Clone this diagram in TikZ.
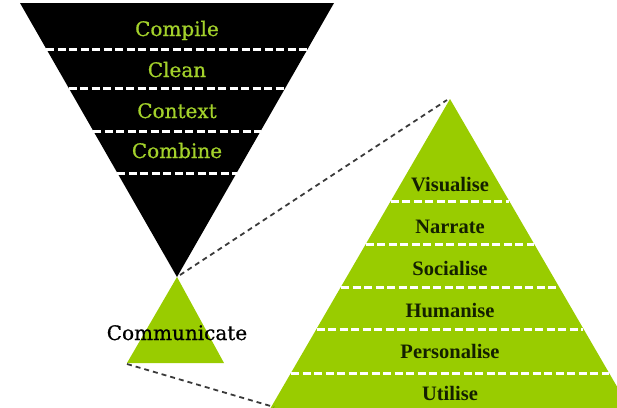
\documentclass[tikz,border=0pt]{standalone}
\usepackage{fontspec}
\setmainfont{DejaVu Serif}
\newfontfamily\funnelfont{DejaVu Serif}[FakeBold=0.7]
\newfontfamily\boldlab{Liberation Serif}
\definecolor{leaf}{HTML}{99CC00}
\definecolor{leaftext}{HTML}{A3D12B}
\definecolor{darklab}{HTML}{142000}
\definecolor{linkgray}{HTML}{3A3A3A}
\tikzset{
  x=1pt, y=-1pt,
  sep/.style={white, line width=3pt, dash pattern=on 8pt off 3.5pt},
  link/.style={linkgray, line width=1.8pt, dash pattern=on 5pt off 4pt},
  funnellab/.style={anchor=base, text=leaftext, inner sep=0pt, font=\funnelfont\fontsize{20}{24}\selectfont},
  pyrlab/.style={anchor=base, text=darklab, inner sep=0pt, font=\boldlab\bfseries\fontsize{20.5}{24}\selectfont},
}
\begin{document}
\begin{tikzpicture}
\useasboundingbox (0,0) rectangle (617,407);
% funnel
\coordinate (fTL) at (20,3);
\coordinate (fTR) at (334,3);
\coordinate (fA) at (177,277);
\fill[black] (fTL) -- (fTR) -- (fA) -- cycle;
\foreach \yy/\hw in {49/130.6, 88/108.3, 131/83.7, 173/59.6}
  \draw[sep] (177-\hw,\yy) -- (177+\hw,\yy);
\node[funnellab] (compile) at (177,36) {Compile};
\node[funnellab] (clean) at (177,77) {Clean};
\node[funnellab] (context) at (177,118) {Context};
\node[funnellab] (combine) at (177,158) {Combine};
% small triangle
\coordinate (sA) at (177,277);
\coordinate (sL) at (127,363);
\coordinate (sR) at (224,363);
\fill[leaf] (sA) -- (sL) -- (sR) -- cycle;
\node[anchor=base, inner sep=0pt, font=\funnelfont\fontsize{20}{24}\selectfont] (communicate) at (177,340) {Communicate};
% pyramid
\coordinate (pA) at (450,99);
\coordinate (pL) at (270,409);
\coordinate (pR) at (630,409);
\begin{scope}
\clip (0,0) rectangle (617,407);
\fill[leaf] (pA) -- (pR) -- (pL) -- cycle;
\foreach \yy/\hw in {201/59.2, 244/84.1, 287/109, 329/133.4, 373/158.9}
  \draw[sep] (450-\hw,\yy) -- (450+\hw,\yy);
\end{scope}
\node[pyrlab] (visualise) at (450,191) {Visualise};
\node[pyrlab] (narrate) at (450,233) {Narrate};
\node[pyrlab] (socialise) at (450,275) {Socialise};
\node[pyrlab] (humanise) at (450,317) {Humanise};
\node[pyrlab] (personalise) at (450,358) {Personalise};
\node[pyrlab] (utilise) at (450,400) {Utilise};
% connectors
\coordinate (c1a) at (180,275);
\coordinate (c1b) at (447,100);
\coordinate (c2a) at (127,364);
\coordinate (c2b) at (274,407);
\draw[link] (c1a) -- (c1b);
\draw[link] (c2a) -- (c2b);
\end{tikzpicture}
\end{document}
